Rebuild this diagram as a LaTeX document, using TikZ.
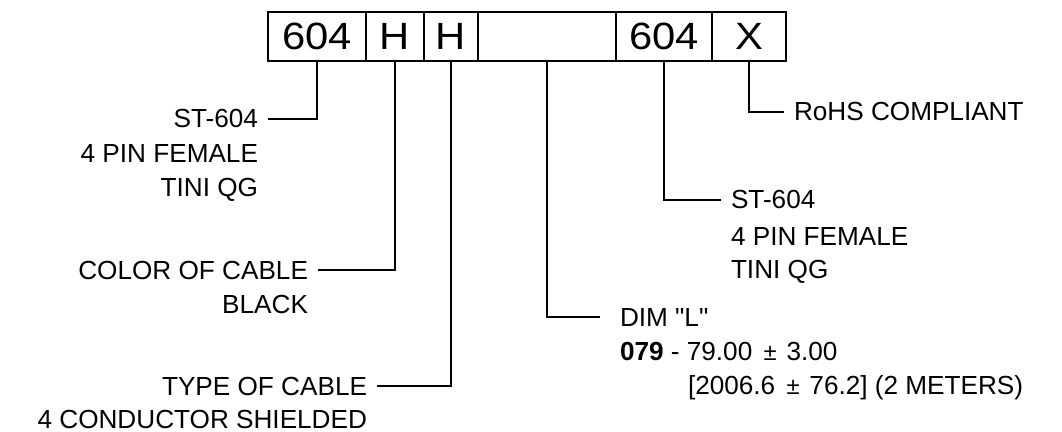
\documentclass[tikz,border=0pt]{standalone}
\usepackage{fontspec}
\setmainfont{Liberation Sans}[Ligatures=TeXOff]
\newfontfamily\cellfont[FakeStretch=1.1]{Liberation Sans}
\usetikzlibrary{positioning}

\newcommand{\smpm}{\hspace{8pt}{\fontsize{17pt}{17pt}\selectfont ±}\hspace{7pt}}

\begin{document}
\begin{tikzpicture}[x=0.025cm,y=-0.025cm,line width=1.4pt,
   cl/.style={draw,minimum height=1.225cm,inner sep=0pt,outer sep=0pt,
     font=\cellfont\fontsize{27pt}{29pt}\selectfont},
   lb/.style={inner xsep=0.25cm,inner ysep=0pt,outer sep=0pt,
     font=\fontsize{18.6pt}{22pt}\selectfont}]
  \useasboundingbox (0,0) rectangle (1062,432);
  % part number cells
  \foreach \n/\x/\w/\t in {pa/317/2.45/604, pb/395/1.45/H, pc/451/1.35/H,
      pd/547/3.45/{}, pe/664/2.4/604, pf/749/1.85/X}
    \node[cl,minimum width=\w cm] (\n) at (\x,36.5) {\t};
  % left labels
  \node[lb,anchor=base east] (st1) at (268,128) {ST-604};
  \node[lb,anchor=base east] (pin1) at (268,163) {4 PIN FEMALE};
  \node[lb,anchor=base east] (tini1) at (268,197) {TINI QG};
  \node[lb,anchor=base east] (col) at (318,279) {COLOR OF CABLE};
  \node[lb,anchor=base east] (blk) at (318,313) {BLACK};
  \node[lb,anchor=base east] (typ) at (377,395) {TYPE OF CABLE};
  \node[lb,anchor=base east] (cond) at (377,428) {4 CONDUCTOR SHIELDED};
  % right labels
  \node[lb,anchor=base west] (rohs) at (784,121) {RoHS COMPLIANT};
  \node[lb,anchor=base west] (st2) at (721,209) {ST-604};
  \node[lb,anchor=base west] (pin2) at (721,245) {4 PIN FEMALE};
  \node[lb,anchor=base west] (tini2) at (721,278) {TINI QG};
  \node[lb,anchor=base west,outer xsep=0.25cm] (dim) at (600,326) {DIM "L"};
  \node[lb,anchor=base west] (len) at (610,360) {\textbf{079} - 79.00\smpm3.00};
  \node[lb,anchor=base west] (mm) at (678,394) {[2006.6\smpm76.2] (2 METERS)};
  % leaders
  \foreach \c/\l in {pa/st1, pb/col, pc/typ}
    \draw (\c.south) |- (\l.east);
  \foreach \c/\l in {pd/dim, pe/st2, pf/rohs}
    \draw (\c.south) |- (\l.west);
\end{tikzpicture}
\end{document}
